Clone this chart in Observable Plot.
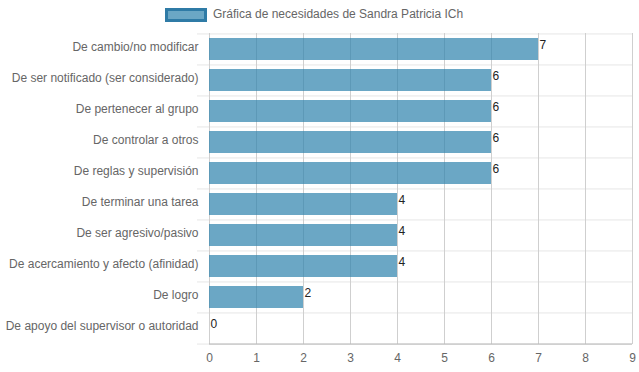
<!DOCTYPE html>
<html><head><meta charset="utf-8">
<script src="https://cdn.jsdelivr.net/npm/d3@7"></script>
<script src="https://cdn.jsdelivr.net/npm/@observablehq/plot@0.6"></script>
<style>
body{margin:0;background:#fff;font-family:"Liberation Sans",Arial,sans-serif;}
#legend{height:28px;position:relative;}
#legend .box{position:absolute;left:165px;top:8px;width:36px;height:8px;background:rgba(44,129,172,0.7);border:3px solid #2f7ba6;}
#legend .lab{position:absolute;left:213px;top:6px;font-size:12px;color:#666;line-height:16px;}
</style></head>
<body>
<div id="legend"><span class="box"></span><span class="lab">Gráfica de necesidades de Sandra Patricia ICh</span></div>
<div id="chart"></div>
<script>
const categories = [
  "De cambio/no modificar",
  "De ser notificado (ser considerado)",
  "De pertenecer al grupo",
  "De controlar a otros",
  "De reglas y supervisión",
  "De terminar una tarea",
  "De ser agresivo/pasivo",
  "De acercamiento y afecto (afinidad)",
  "De logro",
  "De apoyo del supervisor o autoridad"
];
const values = [7, 6, 6, 6, 6, 4, 4, 4, 2, 0];
const xTicks = [0,1,2,3,4,5,6,7,8,9];

const data = categories.map((c, i) => ({cat: c, v: values[i]}));
const H = 344, mT = 5, mB = 28;
const step = (H - mT - mB) / categories.length;

const chart = Plot.plot({
  width: 639, height: H,
  marginLeft: 209, marginRight: 7, marginTop: mT, marginBottom: mB,
  style: {fontFamily: "'Liberation Sans', Arial, sans-serif", fontSize: "12px", background: "#fff"},
  x: {domain: [0, 9], ticks: xTicks, label: null},
  y: {domain: categories, paddingInner: 0.28, paddingOuter: 0.14, label: null},
  marks: [
    Plot.ruleY(categories, {y: d => d, dy: -step/2, stroke: "#e6e6e6", insetLeft: -12}),
    Plot.ruleY([categories[categories.length-1]], {y: d => d, dy: step/2, stroke: "#e6e6e6", insetLeft: -12}),
    Plot.ruleX(xTicks, {x: d => d, stroke: "#cfcfcf"}),
    Plot.barX(data, {x: "v", y: "cat", fill: "rgba(44,129,172,0.7)"}),
    Plot.ruleY([categories[categories.length-1]], {y: d => d, dy: step/2, stroke: "#b5b5b5"}),
    Plot.text(data, {x: "v", y: "cat", text: d => String(d.v), textAnchor: "start", dx: 1, dy: -4, fill: "#222", fontSize: 12}),
    Plot.axisX({ticks: xTicks, tickSize: 0, tickPadding: 9, color: "#666", fontSize: 12, label: null}),
    Plot.axisY({tickSize: 0, tickPadding: 11, dy: -2, color: "#666", fontSize: 12, label: null})
  ]
});
document.getElementById("chart").appendChild(chart);
</script>
</body></html>
